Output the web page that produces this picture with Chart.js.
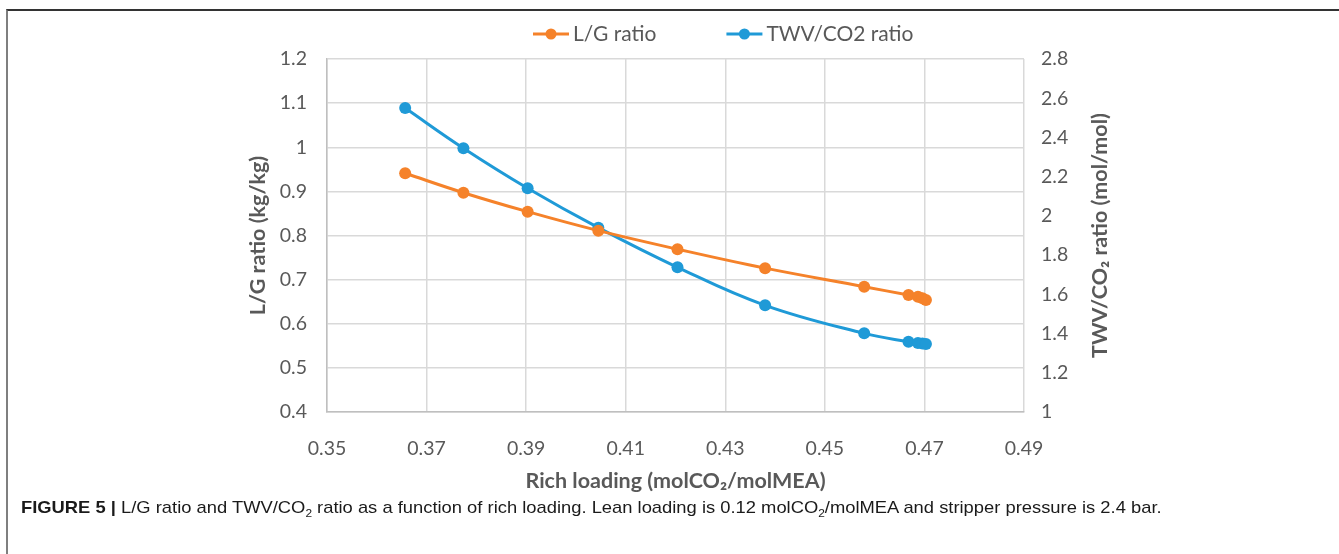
<!DOCTYPE html>
<html lang="en">
<head>
<meta charset="UTF-8">
<title>Figure 5</title>
<script src="https://cdn.jsdelivr.net/npm/chart.js@4.4.1/dist/chart.umd.min.js"></script>
<style>
  html, body { margin: 0; padding: 0; background: #fff; }
  body { width: 1339px; height: 554px; position: relative; overflow: hidden; }
  #frame { position: absolute; left: 6px; top: 9px; right: 0; bottom: 0; border-top: 2px solid #333; border-left: 2px solid #7f7f7f; }
  #chart { position: absolute; left: 0; top: 0; }
  #caption { position: absolute; left: 21px; top: 498px; font-family: 'Liberation Sans', Arial, sans-serif; font-size: 17px; color: #1a1a1a; white-space: nowrap; transform: scaleX(1.08); transform-origin: 0 0; }
  #caption sub { font-size: 11px; }
</style>
</head>
<body>
<div id="frame"></div>
<canvas id="chart" width="1339" height="554"></canvas>
<div id="caption"><b>FIGURE 5 |</b> L/G ratio and TWV/CO<sub>2</sub> ratio as a function of rich loading. Lean loading is 0.12 molCO<sub>2</sub>/molMEA and stripper pressure is 2.4 bar.</div>
<script>
// data
const richLoading = [0.3657, 0.3774, 0.3903, 0.4045, 0.4204, 0.4380, 0.4579, 0.4668, 0.4687, 0.4696, 0.4703];
const lgRatio = [0.941, 0.897, 0.854, 0.811, 0.769, 0.726, 0.684, 0.665, 0.661, 0.658, 0.654];
const twvRatio = [2.550, 2.345, 2.141, 1.940, 1.738, 1.544, 1.401, 1.358, 1.352, 1.349, 1.347];
const seriesNames = ['L/G ratio', 'TWV/CO2 ratio'];

// tick values
const xTicks = [0.35, 0.37, 0.39, 0.41, 0.43, 0.45, 0.47, 0.49];
const yLeftTicks = [0.4, 0.5, 0.6, 0.7, 0.8, 0.9, 1, 1.1, 1.2];
const yRightTicks = [1, 1.2, 1.4, 1.6, 1.8, 2, 2.2, 2.4, 2.6, 2.8];

const orange = '#F5822A';
const blue = '#1F9AD7';
const textGrey = '#595959';
const tickFont = { family: 'Lato', size: 19.5 };
const titleFont = { family: 'Lato', size: 21.5, weight: 'bold' };

function setTicks(values) {
    return scale => { scale.ticks = values.map(v => ({ value: v })); };
}

// legend line+dot and the right axis title (reads bottom to top like the left one)
const extras = {
    id: 'extras',
    afterDraw(chart) {
        const ctx = chart.ctx;
        const area = chart.chartArea;
        ctx.save();
        ctx.font = '21px Lato';
        ctx.textBaseline = 'middle';
        ctx.textAlign = 'left';
        let x = 533;
        const y = 34;
        chart.data.datasets.forEach(ds => {
            ctx.strokeStyle = ds.borderColor;
            ctx.lineWidth = 3;
            ctx.beginPath();
            ctx.moveTo(x, y);
            ctx.lineTo(x + 36, y);
            ctx.stroke();
            ctx.fillStyle = ds.borderColor;
            ctx.beginPath();
            ctx.arc(x + 18, y, 5.5, 0, Math.PI * 2);
            ctx.fill();
            ctx.fillStyle = textGrey;
            ctx.fillText(ds.label, x + 40, y);
            x += 40 + ctx.measureText(ds.label).width + 70;
        });

        ctx.translate(1100, (area.top + area.bottom) / 2);
        ctx.rotate(-Math.PI / 2);
        ctx.textAlign = 'center';
        ctx.font = 'bold 21.5px Lato';
        ctx.fillText('TWV/CO\u2082 ratio (mol/mol)', 0, 0);
        ctx.restore();
    }
};

const ctx = document.getElementById('chart').getContext('2d');
const myChart = new Chart(ctx, {
    type: 'line',
    data: {
        datasets: [{
            label: seriesNames[0],
            data: richLoading.map((x, i) => ({ x: x, y: lgRatio[i] })),
            yAxisID: 'y',
            borderColor: orange,
            backgroundColor: orange,
            borderWidth: 3,
            pointRadius: 6,
            pointHoverRadius: 6,
            pointBorderWidth: 0,
            tension: 0.4
        }, {
            label: seriesNames[1],
            data: richLoading.map((x, i) => ({ x: x, y: twvRatio[i] })),
            yAxisID: 'y1',
            borderColor: blue,
            backgroundColor: blue,
            borderWidth: 3,
            pointRadius: 6,
            pointHoverRadius: 6,
            pointBorderWidth: 0,
            tension: 0.4
        }]
    },
    options: {
        responsive: false,
        animation: false,
        layout: { padding: { top: 59, left: 0, right: 0, bottom: 0 } },
        plugins: {
            legend: { display: false },
            tooltip: { enabled: false }
        },
        scales: {
            x: {
                type: 'linear',
                min: 0.35,
                max: 0.49,
                afterBuildTicks: setTicks(xTicks),
                afterFit: s => { s.height = 142; },
                grid: { color: '#d9d9d9', lineWidth: 1.5, drawTicks: false },
                border: { color: '#bfbfbf', width: 1.5 },
                ticks: { padding: 25, color: textGrey, font: tickFont, callback: v => String(v) },
                title: {
                    display: true,
                    text: 'Rich loading (molCO\u2082/molMEA)',
                    color: textGrey,
                    font: titleFont,
                    padding: { top: 0, bottom: 60 }
                }
            },
            y: {
                position: 'left',
                min: 0.4,
                max: 1.2,
                afterBuildTicks: setTicks(yLeftTicks),
                afterFit: s => { s.width = 327; },
                grid: { color: '#d9d9d9', lineWidth: 1.5, drawTicks: false },
                border: { color: '#bfbfbf', width: 1.5 },
                ticks: { padding: 20, color: textGrey, font: tickFont, callback: v => String(v) },
                title: {
                    display: true,
                    text: 'L/G ratio (kg/kg)',
                    color: textGrey,
                    font: titleFont,
                    padding: { top: 245, bottom: 0 }
                }
            },
            y1: {
                position: 'right',
                min: 1,
                max: 2.8,
                afterBuildTicks: setTicks(yRightTicks),
                afterFit: s => { s.width = 315; },
                grid: { drawOnChartArea: false, drawTicks: false },
                border: { display: false },
                ticks: { padding: 17, color: textGrey, font: tickFont, callback: v => String(v) }
            }
        }
    },
    plugins: [extras]
});
</script>
</body>
</html>
